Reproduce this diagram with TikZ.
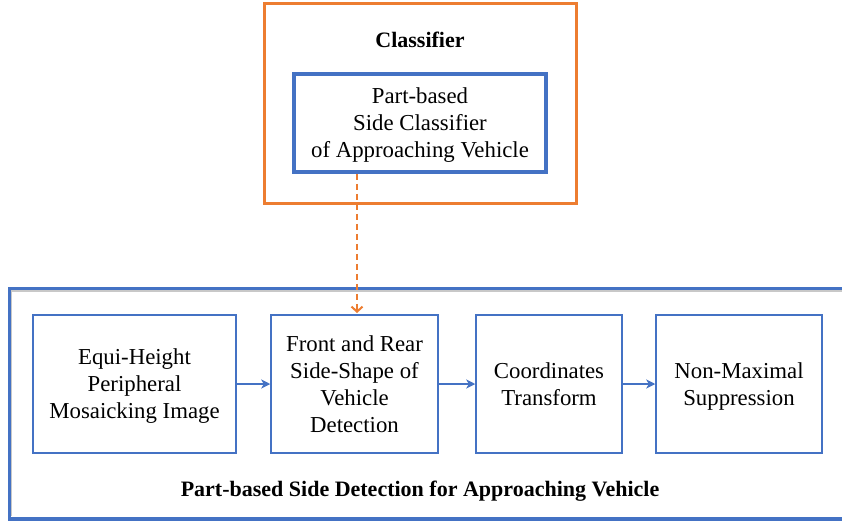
\documentclass[tikz,border=0pt]{standalone}
\usepackage{fontspec}
\setmainfont{Liberation Serif}
\usetikzlibrary{arrows.meta}
\definecolor{frameblue}{RGB}{68,114,196}
\definecolor{frameorange}{RGB}{237,125,49}
\definecolor{shadowgray}{RGB}{200,200,200}
% line strut that keeps multi-line labels optically centred
\newcommand{\lnstrut}{\rule[-6pt]{0pt}{27pt}}
\tikzset{
  txt/.style={font=\fontsize{22.8}{27}\selectfont, align=center},
  stagebox/.style={draw=frameblue, line width=1.5pt, rectangle, inner sep=0pt, txt},
  flow/.style={draw=frameblue, line width=1.8pt, -{Stealth[length=9pt,width=9pt,inset=2.5pt]}},
  feed/.style={draw=frameorange, line width=2pt, dash pattern=on 6pt off 4pt, -{Straight Barb[length=5pt,width=11pt]}}
}
\begin{document}
\begin{tikzpicture}[x=1pt,y=-1pt]
\useasboundingbox (0,0) rectangle (842,524);
\fill[white] (0,0) rectangle (842,524);

% classifier group
\node[draw=frameorange, line width=3pt, minimum width=312pt, minimum height=199pt, inner sep=0pt] (clsgroup) at (420,103.5) {};
\node[font=\fontsize{22}{27}\selectfont\bfseries] (clstitle) at (420,40) {Classifier};
\node[draw=frameblue, line width=3.5pt, minimum width=252pt, minimum height=98pt, inner sep=0pt, txt] (cls) at (420,123) {\lnstrut Part-based\\Side Classifier\\of Approaching Vehicle\lnstrut};

% detection group (extends past the right border)
\draw[shadowgray, line width=2pt] (11,516) -- (11,291) -- (860,291);
\draw[shadowgray, line width=2pt] (8,520) -- (860,520);
\node[draw=frameblue, line width=3.5pt, minimum width=852pt, minimum height=230.5pt, inner sep=0pt, anchor=north west] (detgroup) at (7.5,286.5) {};
\node[font=\fontsize{22}{27}\selectfont\bfseries] (dettitle) at (420,491) {Part-based Side Detection for Approaching Vehicle};

% processing stages
\node[stagebox, minimum width=203pt, minimum height=138pt] (b1) at (134.5,384) {\lnstrut Equi-Height\\Peripheral\\Mosaicking Image\lnstrut};
\node[stagebox, minimum width=167pt, minimum height=138pt] (b2) at (354.5,384) {\lnstrut Front and Rear\\Side-Shape of\\Vehicle\\Detection\lnstrut};
\node[stagebox, minimum width=146pt, minimum height=138pt] (b3) at (549,384) {\lnstrut Coordinates\\Transform\lnstrut};
\node[stagebox, minimum width=166pt, minimum height=138pt] (b4) at (739,384) {\lnstrut Non-Maximal\\Suppression\lnstrut};

\draw[flow] (b1.east) -- (b2.west);
\draw[flow] (b2.east) -- (b3.west);
\draw[flow] (b3.east) -- (b4.west);

% classifier feeds the side-shape detector
\coordinate (feedx) at (357,0);
\coordinate (feedend) at (357,313);
\draw[feed] (cls.south -| feedx) -- (feedend);
\end{tikzpicture}
\end{document}
